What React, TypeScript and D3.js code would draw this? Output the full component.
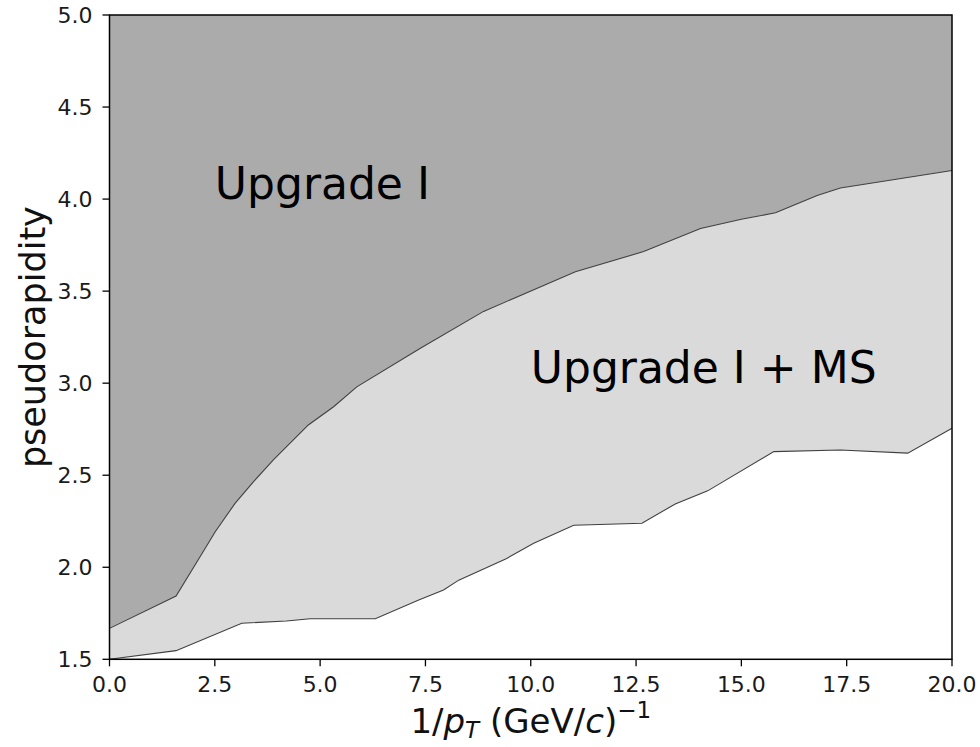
import React from 'react'
import * as d3 from 'd3'

// upper edge: boundary of "Upgrade I" coverage
const upperX = [0, 1.58, 2.15, 2.51, 2.98, 3.42, 3.89, 4.72, 5.32, 5.87, 7.38, 8.88, 11.06, 12.68, 14.03, 15.0, 15.81, 16.8, 17.35, 20]
const upperY = [1.668, 1.844, 2.057, 2.193, 2.347, 2.465, 2.583, 2.773, 2.872, 2.98, 3.19, 3.39, 3.605, 3.715, 3.84, 3.89, 3.926, 4.02, 4.06, 4.155]

// lower edge: boundary of "Upgrade I + MS" coverage
const lowerX = [0, 1.58, 3.14, 4.2, 4.76, 6.31, 7.34, 7.93, 8.29, 9.43, 10.07, 11.02, 12.64, 13.43, 14.2, 15.77, 17.35, 18.95, 20]
const lowerY = [1.5, 1.547, 1.696, 1.708, 1.72, 1.72, 1.822, 1.876, 1.93, 2.048, 2.13, 2.228, 2.239, 2.344, 2.415, 2.628, 2.637, 2.62, 2.755]

const xTicks = [0, 2.5, 5, 7.5, 10, 12.5, 15, 17.5, 20]
const yTicks = [1.5, 2.0, 2.5, 3.0, 3.5, 4.0, 4.5, 5.0]

const labels = [
    { text: 'Upgrade I', x: 2.5, y: 4.0 },
    { text: 'Upgrade I + MS', x: 10, y: 3.0 },
]

const W = 980
const H = 747
const margin = { left: 109.5, right: 28, top: 15, bottom: 87.7 }
const font = 'DejaVu Sans, sans-serif'

export default function App() {
    const x = d3.scaleLinear().domain([0, 20]).range([margin.left, W - margin.right])
    const y = d3.scaleLinear().domain([1.5, 5.0]).range([H - margin.bottom, margin.top])

    const upper = upperX.map((v, i) => [v, upperY[i]] as [number, number])
    const lower = lowerX.map((v, i) => [v, lowerY[i]] as [number, number])

    // dark band: from upper edge to the top of the axes
    const darkArea = d3.area<[number, number]>()
        .x(d => x(d[0]))
        .y0(d => y(d[1]))
        .y1(() => y(5.0))

    const line = d3.line<[number, number]>()
        .x(d => x(d[0]))
        .y(d => y(d[1]))

    // light band: polygon between lower edge and upper edge
    const lightPoly = lower.concat(upper.slice().reverse())
    const lightPath = line(lightPoly) + 'Z'

    const [x0, x1] = x.range()
    const [yb, yt] = y.range()

    return (
        <svg width={W} height={H} style={{ position: 'absolute', left: 0, top: 0, background: '#fff' }}>
            <path d={lightPath} fill="#dadada" stroke="none" />
            <path d={darkArea(upper) || ''} fill="#ababab" stroke="none" />
            <path d={line(upper) || ''} fill="none" stroke="#404040" strokeWidth={1.1} />
            <path d={line(lower) || ''} fill="none" stroke="#404040" strokeWidth={1.1} />

            {labels.map((l, i) => (
                <text key={i} x={x(l.x)} y={y(l.y)} fontFamily={font} fontSize={44} fill="#000">{l.text}</text>
            ))}

            {/* frame */}
            <rect x={x0} y={yt} width={x1 - x0} height={yb - yt} fill="none" stroke="#000" strokeWidth={1.5} />

            {xTicks.map(t => (
                <g key={'x' + t}>
                    <line x1={x(t)} x2={x(t)} y1={yb} y2={yb + 7} stroke="#000" strokeWidth={1.3} />
                    <text x={x(t)} y={yb + 33} textAnchor="middle" fontFamily={font} fontSize={22} fill="#1a1a1a">{t.toFixed(1)}</text>
                </g>
            ))}
            {yTicks.map(t => (
                <g key={'y' + t}>
                    <line x1={x0} x2={x0 - 7} y1={y(t)} y2={y(t)} stroke="#000" strokeWidth={1.3} />
                    <text x={x0 - 17} y={y(t) + 8} textAnchor="end" fontFamily={font} fontSize={22} fill="#1a1a1a">{t.toFixed(1)}</text>
                </g>
            ))}

            <text x={(x0 + x1) / 2} y={733} textAnchor="middle" fontFamily={font} fontSize={34} fill="#111">
                <tspan>1/</tspan>
                <tspan fontStyle="italic">p</tspan>
                <tspan fontStyle="italic" fontSize={23} dy={5}>T</tspan>
                <tspan dy={-5}> (GeV/</tspan>
                <tspan fontStyle="italic">c</tspan>
                <tspan>)</tspan>
                <tspan fontSize={23} dy={-15}>−1</tspan>
            </text>
            <text transform={`translate(45,${(yb + yt) / 2}) rotate(-90)`} textAnchor="middle" fontFamily={font} fontSize={35} fill="#111">pseudorapidity</text>
        </svg>
    )
}
